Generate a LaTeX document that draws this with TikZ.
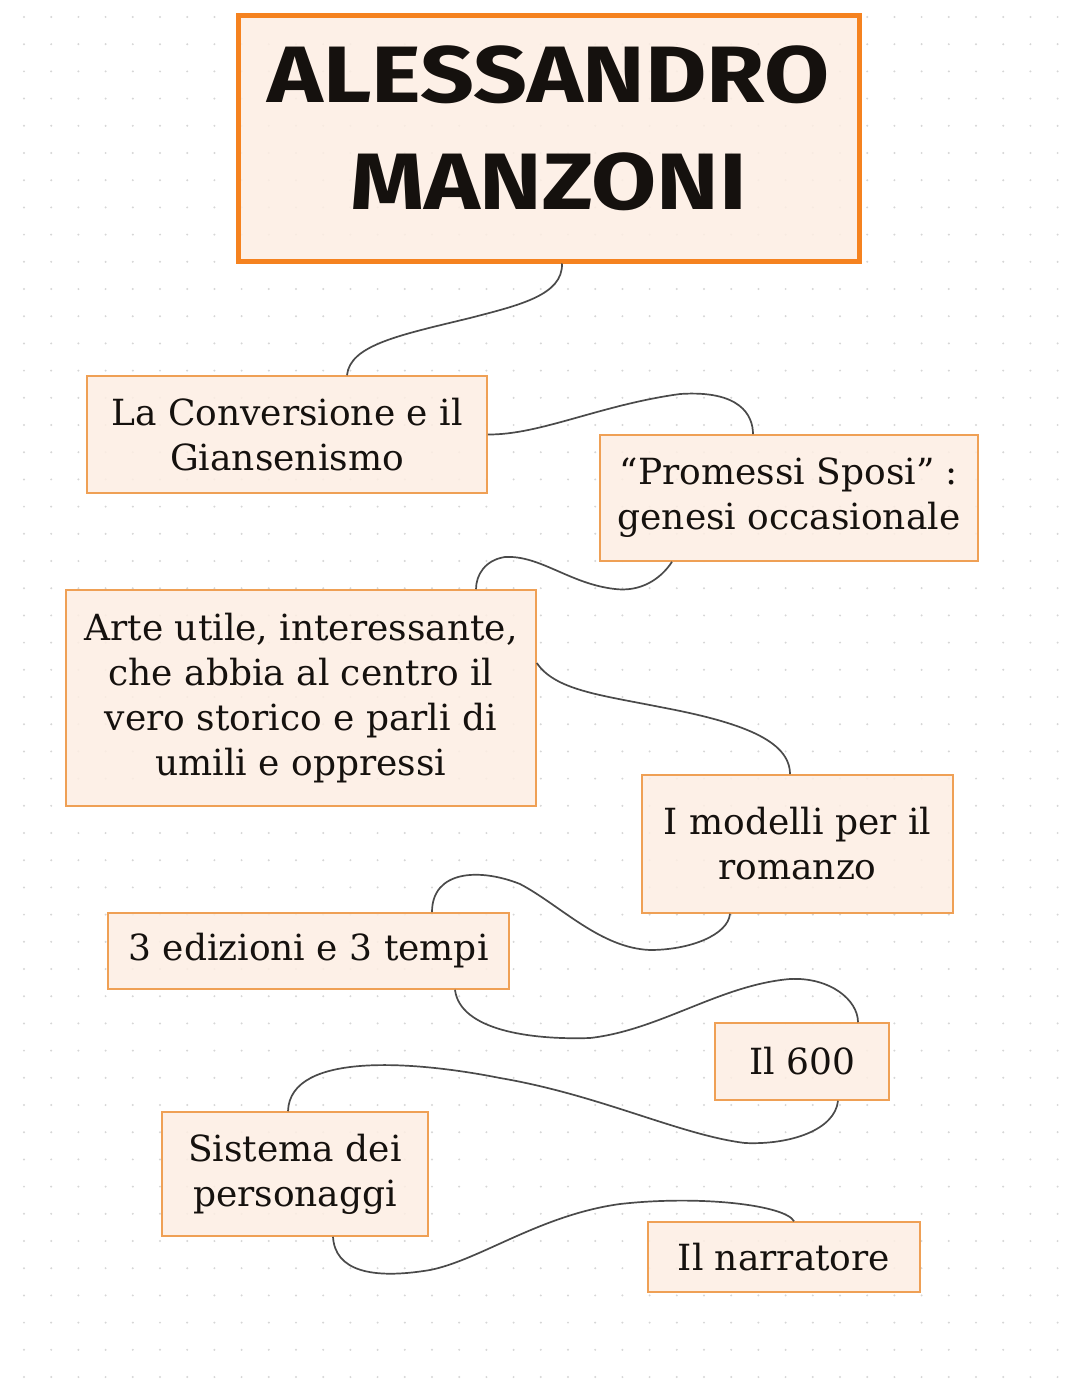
\documentclass[tikz,border=0pt]{standalone}
\usepackage{fontspec}
\newfontfamily\bodyfont{DejaVu Serif}
\newfontfamily\titlefont{Fira Sans}
\definecolor{boxfill}{HTML}{FDEEE3}
\definecolor{boxline}{HTML}{EFA055}
\definecolor{titleline}{HTML}{F5821F}
\definecolor{dotc}{HTML}{D6D6D6}
\definecolor{linkc}{HTML}{4A4A4A}
\definecolor{inkc}{HTML}{15110E}
\tikzset{
  conceptbox/.style={draw=boxline, line width=1.6pt, fill=boxfill, fill opacity=0.85, text opacity=1,
    align=center, inner sep=0pt, text=inkc, font=\bodyfont\fontsize{36}{45}\selectfont},
  titlebox/.style={draw=titleline, line width=5pt, fill=boxfill, fill opacity=0.85, inner sep=0pt},
  titletext/.style={align=center, inner sep=0pt, text=inkc, font=\titlefont\bfseries\fontsize{80}{107}\selectfont},
  link/.style={draw=linkc, line width=1.7pt}
}
\begin{document}
\begin{tikzpicture}[x=1pt,y=-1pt]
\useasboundingbox (0,0) rectangle (1080,1394);
\fill[white] (0,0) rectangle (1080,1394);
% dotted grid
\foreach \i in {0,...,39}{
  \foreach \j in {0,...,50}{
    \fill[dotc] (24+27.2*\i,17+27.2*\j) circle (1.1pt);
  }
}
% nodes
\node[titlebox, minimum width=621pt, minimum height=245pt] (title) at (548.5,138.5) {};
\node[titletext] (titlelabel) at ([yshift=10pt]title.center) {\scalebox{1.18}[1]{ALESSANDRO}\\\scalebox{1.18}[1]{MANZONI}};
\node[conceptbox, minimum width=400pt, minimum height=117pt] (A) at (287,434.5) {La Conversione e il\\Giansenismo};
\node[conceptbox, minimum width=378pt, minimum height=126pt] (B) at (789,498) {“Promessi Sposi” :\\genesi occasionale};
\node[conceptbox, minimum width=470pt, minimum height=216pt] (C) at (301,698) {Arte utile, interessante,\\che abbia al centro il\\vero storico e parli di\\umili e oppressi};
\node[conceptbox, minimum width=311pt, minimum height=138pt] (D) at (797.5,844) {I modelli per il\\romanzo};
\node[conceptbox, minimum width=401pt, minimum height=76pt] (E) at (308.5,951) {3 edizioni e 3 tempi};
\node[conceptbox, minimum width=174pt, minimum height=77pt] (F) at (802,1061.5) {Il 600};
\node[conceptbox, minimum width=266pt, minimum height=124pt] (G) at (295,1174) {Sistema dei\\personaggi};
\node[conceptbox, minimum width=272pt, minimum height=70pt] (H) at (784,1257) {Il narratore};
% connectors
\draw[link] ([xshift=13.5pt]title.south) .. controls (563,295) and (520,305) .. (470,318)
  .. controls (400,335) and (350,345) .. ([xshift=60pt]A.north);
\draw[link] (A.east) .. controls (540,435) and (600,405) .. (680,394)
  .. controls (740,390) and (753,415) .. ([xshift=-36pt]B.north);
\draw[link] ([xshift=-117pt]B.south) .. controls (660,580) and (640,592) .. (615,589)
  .. controls (570,584) and (540,555) .. (505,557)
  .. controls (485,560) and (476,575) .. ([xshift=175pt]C.north);
\draw[link] ([yshift=35pt]C.east) .. controls (555,690) and (600,695) .. (660,707)
  .. controls (740,722) and (790,740) .. ([xshift=-7.5pt]D.north);
\draw[link] ([xshift=-67.5pt]D.south) .. controls (728,935) and (690,950) .. (650,950)
  .. controls (600,948) and (560,905) .. (520,884)
  .. controls (480,868) and (432,870) .. ([xshift=123.5pt]E.north);
\draw[link] ([xshift=146.5pt]E.south) .. controls (460,1030) and (530,1040) .. (590,1038)
  .. controls (660,1030) and (720,985) .. (790,979)
  .. controls (830,977) and (858,1000) .. ([xshift=56pt]F.north);
\draw[link] ([xshift=36pt]F.south) .. controls (835,1130) and (790,1145) .. (745,1143)
  .. controls (680,1135) and (600,1095) .. (500,1078)
  .. controls (420,1062) and (290,1050) .. ([xshift=-7pt]G.north);
\draw[link] ([xshift=38pt]G.south) .. controls (335,1270) and (370,1280) .. (430,1270)
  .. controls (480,1260) and (540,1215) .. (620,1204)
  .. controls (700,1195) and (785,1205) .. ([xshift=10pt]H.north);
\end{tikzpicture}
\end{document}
